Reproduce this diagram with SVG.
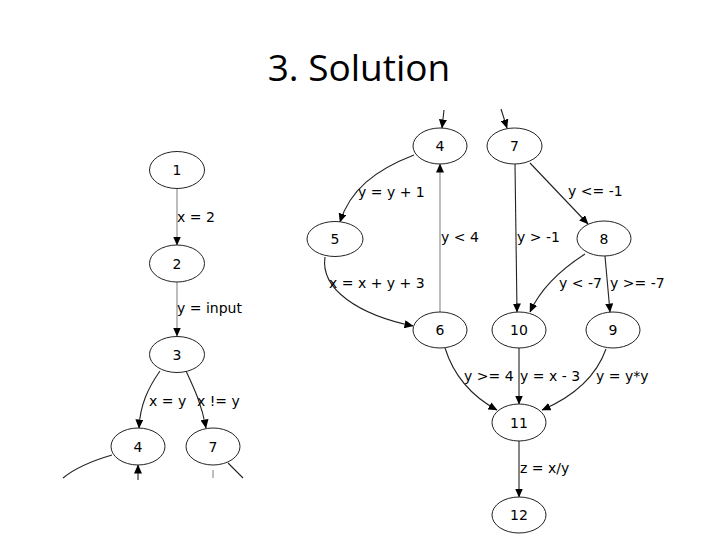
<svg xmlns="http://www.w3.org/2000/svg" width="720" height="540" viewBox="0 0 720 540">
<defs>
<marker id="ah" markerWidth="9" markerHeight="8" refX="8.5" refY="4" orient="auto" markerUnits="userSpaceOnUse">
<path d="M0,0 L9,4 L0,8 Z" fill="#000"/>
</marker>
<style>
.n ellipse{fill:#fff;stroke:#222;stroke-width:1}
.n text,.lbl{font-family:"DejaVu Sans",sans-serif;font-size:14px;fill:#000}
.n text{text-anchor:middle}
.e path{fill:none;stroke:#222;stroke-width:1.1;marker-end:url(#ah)}
.e path.g{stroke:#888}
.e path.nm{marker-end:none}
</style>
</defs>
<rect width="720" height="540" fill="#fff"/>
<text x="359" y="81" text-anchor="middle" font-family="'Open Sans','Liberation Sans',sans-serif" font-size="37" fill="#000">3. Solution</text>

<g id="connectors" class="e">
<path class="g" d="M177,189 L177,245"/>
<path class="g" d="M177,282 L177,336"/>
<path d="M160,371 C148,388 140,405 139,428"/>
<path d="M186,371 C194,388 202,405 206,428"/>
<path class="nm" d="M112,455 C95,460 75,468 63,478"/>
<path d="M138,480 L138,465"/>
<path class="nm g" d="M213,470 L213,478"/>
<path class="nm" d="M228,463 L243,478"/>

<path d="M444,110 L442,128"/>
<path d="M501,109 L507,128"/>
<path d="M414,155 C375,170 350,190 340,222"/>
<path d="M325,257 C320,290 360,315 413,326"/>
<path class="g" d="M440,312 L440,164"/>
<path d="M515,164 L517,312"/>
<path d="M530,163 L588,224"/>
<path d="M585,254 C560,270 540,290 530,312"/>
<path d="M605,256 L610,312"/>
<path d="M445,348 C455,380 475,398 497,410"/>
<path d="M519,348 L519,404"/>
<path d="M606,349 C595,380 570,398 542,410"/>
<path d="M519,441 L519,497"/>
</g>

<g id="edge-labels">
<text class="lbl" x="177" y="222">x = 2</text>
<text class="lbl" x="177" y="313">y = input</text>
<text class="lbl" x="149" y="406">x = y</text>
<text class="lbl" x="197" y="406">x != y</text>
<text class="lbl" x="358" y="197">y = y + 1</text>
<text class="lbl" x="441" y="242">y &lt; 4</text>
<text class="lbl" x="329" y="288">x = x + y + 3</text>
<text class="lbl" x="517" y="242">y &gt; -1</text>
<text class="lbl" x="568" y="196">y &lt;= -1</text>
<text class="lbl" x="559" y="288">y &lt; -7</text>
<text class="lbl" x="610" y="288">y &gt;= -7</text>
<text class="lbl" x="464" y="381">y &gt;= 4</text>
<text class="lbl" x="520" y="381">y = x - 3</text>
<text class="lbl" x="596" y="381">y = y*y</text>
<text class="lbl" x="520" y="473">z = x/y</text>
</g>

<g id="L1" class="n"><ellipse cx="177" cy="170" rx="27.5" ry="18.5"/><text x="177" y="175">1</text></g>
<g id="L2" class="n"><ellipse cx="177" cy="263.5" rx="27.5" ry="18.5"/><text x="177" y="268.5">2</text></g>
<g id="L3" class="n"><ellipse cx="177" cy="354.5" rx="27.5" ry="18"/><text x="177" y="359.5">3</text></g>
<g id="L4" class="n"><ellipse cx="138" cy="446.5" rx="27" ry="18.5"/><text x="138" y="451.5">4</text></g>
<g id="L7" class="n"><ellipse cx="213" cy="446.5" rx="27" ry="18.5"/><text x="213" y="451.5">7</text></g>

<g id="R4" class="n"><ellipse cx="440" cy="146" rx="27" ry="18"/><text x="440" y="151">4</text></g>
<g id="R7" class="n"><ellipse cx="514.5" cy="146" rx="27.5" ry="18"/><text x="514.5" y="151">7</text></g>
<g id="R5" class="n"><ellipse cx="335" cy="239" rx="28" ry="17.5"/><text x="335" y="244">5</text></g>
<g id="R8" class="n"><ellipse cx="604" cy="238.5" rx="27" ry="17.5"/><text x="604" y="243.5">8</text></g>
<g id="R6" class="n"><ellipse cx="440" cy="330" rx="27" ry="18"/><text x="440" y="335">6</text></g>
<g id="R10" class="n"><ellipse cx="519" cy="330" rx="27" ry="18"/><text x="519" y="335">10</text></g>
<g id="R9" class="n"><ellipse cx="613" cy="330" rx="27" ry="18"/><text x="613" y="335">9</text></g>
<g id="R11" class="n"><ellipse cx="519" cy="422.5" rx="27" ry="18.5"/><text x="519" y="427.5">11</text></g>
<g id="R12" class="n"><ellipse cx="519" cy="515" rx="27" ry="18"/><text x="519" y="520">12</text></g>
</svg>
